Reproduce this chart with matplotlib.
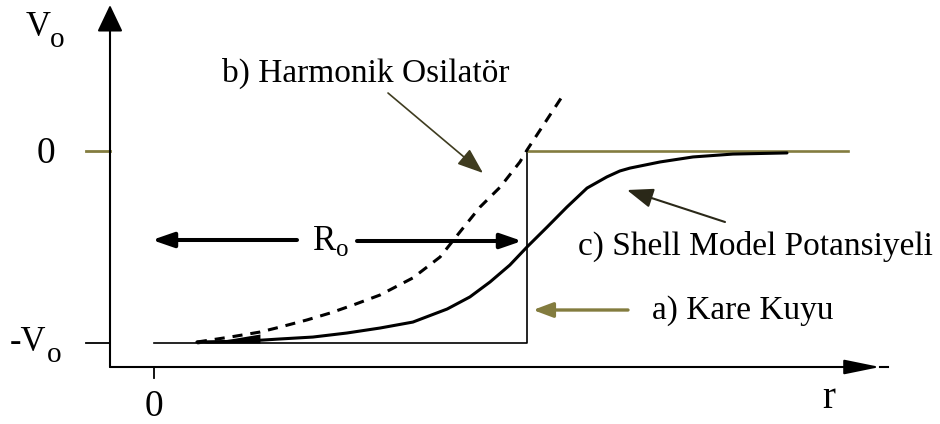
import numpy as np
import matplotlib.pyplot as plt

plt.rcParams['font.family'] = ['Liberation Serif', 'DejaVu Serif']

# radius in units of R0, potential in units of V0
r_shell = [0.115, 0.249, 0.338, 0.426, 0.517, 0.606, 0.694, 0.786, 0.847, 0.901,
           0.954, 1.000, 1.054, 1.107, 1.161, 1.214, 1.249, 1.276, 1.357, 1.445, 1.552, 1.697]
v_shell = [-0.995, -0.990, -0.979, -0.969, -0.948, -0.922, -0.891, -0.823, -0.760, -0.682,
           -0.594, -0.500, -0.396, -0.292, -0.193, -0.135, -0.104, -0.089, -0.057, -0.031,
           -0.016, -0.010]

r_osc = [0.115, 0.204, 0.284, 0.338, 0.410, 0.472, 0.534, 0.606, 0.694, 0.767,
         0.820, 0.874, 0.928, 0.981, 1.000, 1.097]
v_osc = [-0.995, -0.969, -0.943, -0.917, -0.880, -0.844, -0.802, -0.750, -0.661, -0.552,
         -0.422, -0.292, -0.188, -0.057, 0.005, 0.292]

r_well = [0.0, 1.0, 1.0]
v_well = [-1.0, -1.0, 0.0]
r_top = [1.0, 1.861]
v_top = [0.0, 0.0]

olive = '#837c3f'

fig = plt.figure(figsize=(9.4, 4.24), dpi=100)
ax = fig.add_axes([0, 0, 1, 1])
ax.set_xlim(-154 / 373, 786 / 373)
ax.set_ylim(-273 / 192, 151 / 192)
ax.axis('off')


def px(x, y):
    # figure pixel -> (r/R0, V/V0)
    return (x - 154) / 373, -(y - 151) / 192


def arrow(tip, tail, color='black', lw=1.5, head='-|>,head_length=1.4,head_width=0.5', ms=10):
    ax.annotate('', xy=tip, xytext=tail,
                arrowprops=dict(arrowstyle=head, mutation_scale=ms, lw=lw, color=color,
                                shrinkA=0, shrinkB=0))


# axes with arrow heads
arrow(px(110, 5), px(110, 367), lw=1.5, head='-|>,head_length=1.66,head_width=0.79')
arrow(px(880, 367), px(110, 367), lw=1.5, head='-|>,head_length=2.2,head_width=0.45')
ax.plot(*zip(px(880, 367), px(888, 367)), color='black', lw=1.5)

# ticks
ax.plot(*zip(px(86, 151), px(110, 151)), color=olive, lw=2)
ax.plot(*zip(px(86, 343), px(110, 343)), color='black', lw=1.3)
ax.plot(*zip(px(154, 367), px(154, 378)), color='black', lw=1.3)

# a) square well
ax.plot(r_well, v_well, color='black', lw=1.2)
ax.plot(r_top, v_top, color=olive, lw=1.9)

# b) harmonic oscillator
ax.plot(r_osc, v_osc, color='black', lw=2.2, dashes=(3.3, 2.6), dash_joinstyle='round')
ro = np.array(r_osc)
vo = np.array(v_osc)
near = ro <= 0.29
ax.fill_between(ro[near], -1.0, vo[near] - 0.01, color='black', lw=0)

# c) shell model (Woods-Saxon)
ax.plot(r_shell, v_shell, color='black', lw=2.2, solid_joinstyle='round', solid_capstyle='round')

# R0 span
arrow(px(152, 240), px(297, 240), lw=2.9, head='-|>,head_length=1.3,head_width=0.45')
arrow(px(522, 241), px(357, 241), lw=2.9, head='-|>,head_length=1.3,head_width=0.45')

# labels pointing at each curve
arrow(px(483, 173), px(388, 93), color='#3f3c20', lw=1.2, head='-|>,head_length=1.6,head_width=0.6')
arrow(px(627, 190), px(725, 222), color='#2a2818', lw=1.5, head='-|>,head_length=1.6,head_width=0.6')
arrow(px(533, 310), px(628, 310), color=olive, lw=2.4, head='-|>,head_length=1.2,head_width=0.45')

ax.text(*px(222, 82), 'b) Harmonik Osilatör', fontsize=24, va='baseline', ha='left')
ax.text(*px(578, 255), 'c) Shell Model Potansiyeli', fontsize=24, va='baseline', ha='left')
ax.text(*px(652, 319), 'a) Kare Kuyu', fontsize=24, va='baseline', ha='left')

ax.text(*px(313, 250), 'R', fontsize=25, va='baseline', ha='left')
ax.text(*px(336, 256), 'o', fontsize=18, va='baseline', ha='left')

ax.text(*px(26, 36), 'V', fontsize=25, va='baseline', ha='left')
ax.text(*px(50, 47), 'o', fontsize=21, va='baseline', ha='left')
ax.text(*px(37, 163), '0', fontsize=27, va='baseline', ha='left')
ax.text(*px(10, 351), '-V', fontsize=25, va='baseline', ha='left')
ax.text(*px(47, 362), 'o', fontsize=21, va='baseline', ha='left')
ax.text(*px(145, 416), '0', fontsize=27, va='baseline', ha='left')
ax.text(*px(822, 408), 'r', fontsize=28, va='baseline', ha='left')

fig.savefig('out.png', dpi=100)
